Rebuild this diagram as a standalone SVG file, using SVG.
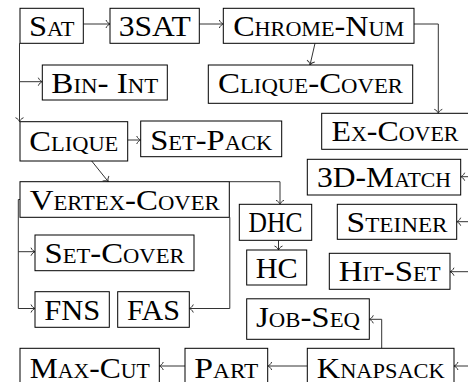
<svg xmlns="http://www.w3.org/2000/svg" width="468" height="382" viewBox="0 0 468 382">
<style>
.n rect{fill:#fff;stroke:#000;stroke-width:1}
.n text{font-family:"Liberation Serif","DejaVu Serif",serif;font-size:29px;fill:#000;text-anchor:middle}
.sc{font-variant:small-caps}
#edges path{fill:none;stroke:#333;stroke-width:1;marker-end:url(#ar)}
</style>
<defs>
<marker id="ar" markerUnits="userSpaceOnUse" markerWidth="10" markerHeight="10" viewBox="-5 -5 10 10" refX="0" refY="0" orient="auto">
<path d="M -4 -4 C -3 -1.5 -1 -0.3 0 0 C -1 0.3 -3 1.5 -4 4" fill="none" stroke="#333" stroke-width="1"/>
</marker>
</defs>
<g id="edges">
<path d="M83.3,24 H110"/>
<path d="M199.3,24 H223.3"/>
<path d="M414,24 H438.3 V113.3"/>
<path d="M315,43.3 L310,65"/>
<path d="M19.5,43.3 V121.7"/>
<path d="M19.5,81.7 H42.3"/>
<path d="M127.7,140 H140.7"/>
<path d="M91.7,161 L108.3,181.7"/>
<path d="M229.3,181.7 H280 V204.3"/>
<path d="M278.5,240.3 V250"/>
<path d="M20,199.5 H18.3 V308.5 H35"/>
<path d="M18.3,251.7 H35"/>
<path d="M229.8,217.3 V308.5 H189.3"/>
<path d="M469,176.7 H460.7"/>
<path d="M469,221.7 H456.7"/>
<path d="M469,271.7 H450"/>
<path d="M469,366 H454"/>
<path d="M381.7,348.3 V319.3 H369.3"/>
<path d="M307.3,366 H267.7"/>
<path d="M185,366 H159.3"/>
</g>
<g id="sat" class="n"><rect x="20" y="8.3" width="63.3" height="35"/><text class="sc" x="51.7" y="35.5" textLength="45.5" lengthAdjust="spacingAndGlyphs">Sat</text></g>
<g id="3sat" class="n"><rect x="110" y="8.3" width="89.3" height="35"/><text x="154.7" y="35.5" textLength="72" lengthAdjust="spacingAndGlyphs">3SAT</text></g>
<g id="chrome-num" class="n"><rect x="223.3" y="8.3" width="190.7" height="35"/><text class="sc" x="318.7" y="35.5" textLength="171" lengthAdjust="spacingAndGlyphs">Chrome-Num</text></g>
<g id="bin-int" class="n"><rect x="42.3" y="65" width="125" height="35"/><text class="sc" x="104.8" y="92.5" textLength="107" lengthAdjust="spacingAndGlyphs">Bin- Int</text></g>
<g id="clique-cover" class="n"><rect x="208.3" y="65" width="204.4" height="38.3"/><text class="sc" x="310.5" y="92.5" textLength="185" lengthAdjust="spacingAndGlyphs">Clique-Cover</text></g>
<g id="clique" class="n"><rect x="20" y="121.7" width="107.7" height="39.3"/><text class="sc" x="73.8" y="150.5" textLength="89" lengthAdjust="spacingAndGlyphs">Clique</text></g>
<g id="set-pack" class="n"><rect x="140.7" y="121" width="141" height="35.7"/><text class="sc" x="211.2" y="149.5" textLength="122" lengthAdjust="spacingAndGlyphs">Set-Pack</text></g>
<g id="ex-cover" class="n"><rect x="321.7" y="113.3" width="150" height="36"/><text class="sc" x="395" y="141" textLength="127" lengthAdjust="spacingAndGlyphs">Ex-Cover</text></g>
<g id="3d-match" class="n"><rect x="307.3" y="159.3" width="153.4" height="35.7"/><text class="sc" x="384" y="187" textLength="134" lengthAdjust="spacingAndGlyphs">3D-Match</text></g>
<g id="vertex-cover" class="n"><rect x="20" y="181.7" width="209.3" height="35.6"/><text class="sc" x="124.7" y="209.5" textLength="190" lengthAdjust="spacingAndGlyphs">Vertex-Cover</text></g>
<g id="dhc" class="n"><rect x="239.3" y="204.3" width="72.4" height="36"/><text x="275.5" y="232" textLength="54" lengthAdjust="spacingAndGlyphs">DHC</text></g>
<g id="steiner" class="n"><rect x="337.3" y="204.3" width="119.4" height="35"/><text class="sc" x="397" y="231.5" textLength="101" lengthAdjust="spacingAndGlyphs">Steiner</text></g>
<g id="set-cover" class="n"><rect x="35" y="235" width="159" height="35.7"/><text class="sc" x="114.5" y="263" textLength="140" lengthAdjust="spacingAndGlyphs">Set-Cover</text></g>
<g id="hc" class="n"><rect x="246.7" y="250" width="60" height="35"/><text x="276.7" y="277.5" textLength="42" lengthAdjust="spacingAndGlyphs">HC</text></g>
<g id="hit-set" class="n"><rect x="329.3" y="253.3" width="120.7" height="36"/><text class="sc" x="389.7" y="281.3" textLength="102" lengthAdjust="spacingAndGlyphs">Hit-Set</text></g>
<g id="fns" class="n"><rect x="35" y="291.7" width="74.3" height="35.6"/><text x="72.2" y="319.5" textLength="56" lengthAdjust="spacingAndGlyphs">FNS</text></g>
<g id="fas" class="n"><rect x="117.7" y="291.7" width="71.6" height="35.6"/><text x="153.5" y="319.5" textLength="53" lengthAdjust="spacingAndGlyphs">FAS</text></g>
<g id="job-seq" class="n"><rect x="246.7" y="298.8" width="122.6" height="40.5"/><text class="sc" x="308" y="327" textLength="104" lengthAdjust="spacingAndGlyphs">Job-Seq</text></g>
<g id="max-cut" class="n"><rect x="20" y="348.3" width="139.3" height="36"/><text class="sc" x="89.7" y="377.5" textLength="120" lengthAdjust="spacingAndGlyphs">Max-Cut</text></g>
<g id="part" class="n"><rect x="185" y="348.3" width="82.7" height="36"/><text class="sc" x="226.3" y="377.5" textLength="64" lengthAdjust="spacingAndGlyphs">Part</text></g>
<g id="knapsack" class="n"><rect x="307.3" y="348.3" width="146.7" height="36"/><text class="sc" x="380.7" y="377.5" textLength="128" lengthAdjust="spacingAndGlyphs">Knapsack</text></g>
</svg>
